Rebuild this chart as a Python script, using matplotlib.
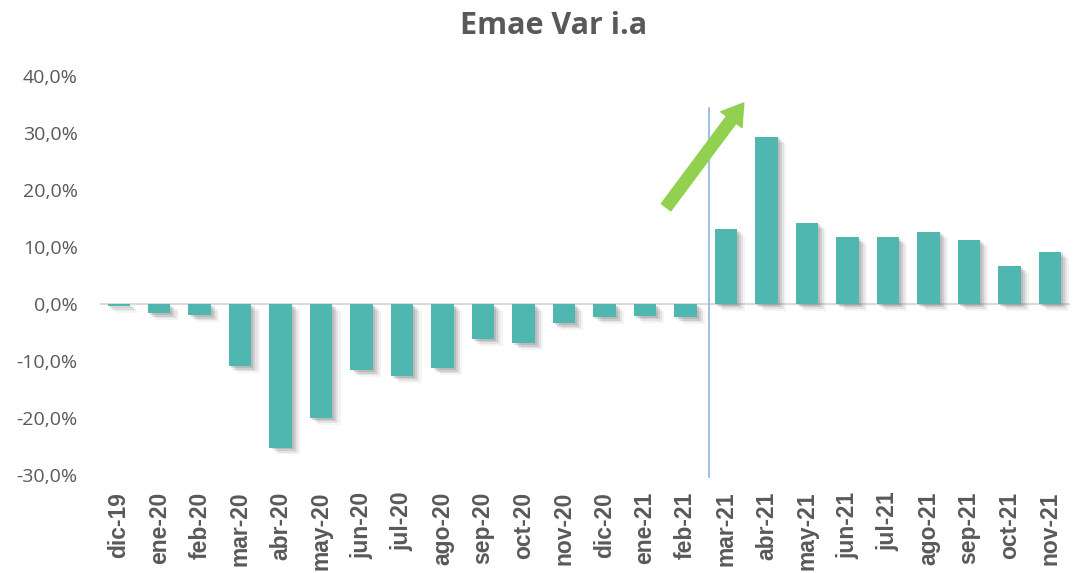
import numpy as np
import matplotlib
matplotlib.use('Agg')
import matplotlib.pyplot as plt
import matplotlib.patheffects as pe
from matplotlib.ticker import FuncFormatter

# datos
meses = ['dic-19', 'ene-20', 'feb-20', 'mar-20', 'abr-20', 'may-20', 'jun-20', 'jul-20',
         'ago-20', 'sep-20', 'oct-20', 'nov-20', 'dic-20', 'ene-21', 'feb-21', 'mar-21',
         'abr-21', 'may-21', 'jun-21', 'jul-21', 'ago-21', 'sep-21', 'oct-21', 'nov-21']
var_ia = [-0.4, -1.6, -2.0, -10.9, -25.2, -20.0, -11.6, -12.6, -11.3, -6.1, -6.9, -3.4,
          -2.3, -2.1, -2.3, 13.2, 29.4, 14.3, 11.7, 11.7, 12.7, 11.3, 6.6, 9.2]
y_ticks = [-30, -20, -10, 0, 10, 20, 30, 40]

gris = '#595959'
verde_agua = '#4FB7B0'

fig = plt.figure(figsize=(10.92, 5.73), dpi=100)
ax = fig.add_axes([0.0916, 0.171, 0.888, 0.696])

x = np.arange(len(meses))
# sombra difusa: varias capas
sombra = [pe.SimplePatchShadow(offset=(o, -o * 0.8), shadow_rgbFace='#707070', alpha=a)
          for o, a in [(6, 0.07), (4.5, 0.12), (3, 0.18), (1.5, 0.22)]]
sombra.append(pe.Normal())
ax.bar(x, var_ia, width=0.55, color=verde_agua, zorder=3, path_effects=sombra)

ax.axhline(0, color='#D9D9D9', lw=1.5, zorder=2)
ax.plot([14.58, 14.58], [-30.3, 34.4], color='#8EB4E3', lw=1.2, zorder=4, clip_on=False)

# flecha
ax.annotate('', xy=(15.44, 35.3), xytext=(13.52, 17.0),
            arrowprops=dict(arrowstyle='simple,head_width=1.9,head_length=1.5,tail_width=0.85',
                            color='#92D050', mutation_scale=10, shrinkA=0, shrinkB=0),
            zorder=5, annotation_clip=False)

ax.set_xlim(-0.46, 23.49)
ax.set_ylim(-30, 40)
ax.set_yticks(y_ticks)
ax.yaxis.set_major_formatter(FuncFormatter(lambda v, p: f'{v:.1f}%'.replace('.', ',')))
ax.set_xticks(x)
ax.set_xticklabels(meses, rotation=90, fontsize=16.5, fontweight='bold',
                   family='Liberation Sans', color=gris)
for t in ax.get_yticklabels():
    t.set_family('Open Sans')
    t.set_fontsize(14)
    t.set_color(gris)
ax.tick_params(axis='y', length=0, pad=16)
ax.tick_params(axis='x', length=0, pad=12)
for s in ax.spines.values():
    s.set_visible(False)

fig.text(0.507, 0.955, 'Emae Var i.a', ha='center', va='center', fontsize=22,
         fontweight='bold', family='Open Sans', color=gris)

fig.savefig('out.png', dpi=100)
